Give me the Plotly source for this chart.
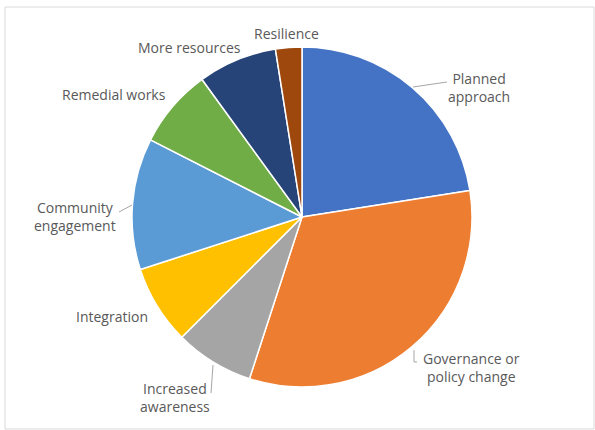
import plotly.graph_objects as go

# Number of responses per theme
categories = ["Planned approach", "Governance or policy change", "Increased awareness",
              "Integration", "Community engagement", "Remedial works",
              "More resources", "Resilience"]
counts = [9, 13, 3, 3, 5, 3, 3, 1]
colors = ["#4472C4", "#ED7D31", "#A5A5A5", "#FFC000",
          "#5B9BD5", "#70AD47", "#264478", "#9E480E"]

W, H = 595, 430
cx, cy, r = 302, 217, 170  # pie centre and radius in pixels


def px(x):
    return x / W


def py(y):
    return 1 - y / H


fig = go.Figure(go.Pie(
    labels=categories,
    values=counts,
    marker=dict(colors=colors, line=dict(color="white", width=1.5)),
    sort=False,
    direction="clockwise",
    rotation=0,
    textinfo="none",
    hoverinfo="label+value+percent",
    domain=dict(x=[px(cx - r), px(cx + r)], y=[py(cy + r), py(cy - r)]),
    showlegend=False,
))

# Category labels placed around the pie
label_pos = {
    "Planned approach": (479, 87, "Planned<br>approach"),
    "Governance or policy change": (471, 367, "Governance or<br>policy change"),
    "Increased awareness": (175, 397, "Increased<br>awareness"),
    "Integration": (112, 316, "Integration"),
    "Community engagement": (75, 216, "Community<br>engagement"),
    "Remedial works": (114, 95, "Remedial works"),
    "More resources": (190, 47, "More resources"),
    "Resilience": (286, 33, "Resilience"),
}
font = dict(family="Open Sans, Liberation Sans, sans-serif", size=14, color="#595959")
for name in categories:
    x, y, txt = label_pos[name]
    fig.add_annotation(x=px(x), y=py(y), xref="paper", yref="paper", text=txt,
                       showarrow=False, font=font, align="center",
                       xanchor="center", yanchor="middle")

# Leader lines for labels set away from their slice
leaders = [
    [(413, 87), (447, 82)],
    [(414, 350), (414, 362), (417, 362)],
    [(213, 365), (211, 393)],
    [(132, 205), (119, 212)],
]
for pts in leaders:
    path = "M " + " L ".join(f"{px(x)},{py(y)}" for x, y in pts)
    fig.add_shape(type="path", path=path, xref="paper", yref="paper",
                  line=dict(color="#A6A6A6", width=1))

# Chart area border
fig.add_shape(type="rect", xref="paper", yref="paper",
              x0=px(5), x1=px(594), y0=py(429), y1=py(7),
              line=dict(color="#D9D9D9", width=1))

fig.update_layout(width=W, height=H, margin=dict(l=0, r=0, t=0, b=0),
                  paper_bgcolor="white", plot_bgcolor="white")

fig.write_html("out.html")
